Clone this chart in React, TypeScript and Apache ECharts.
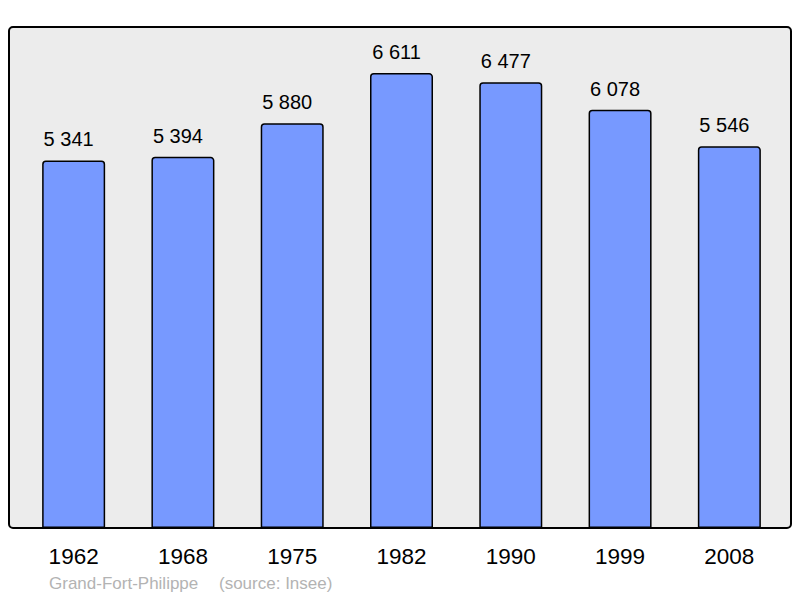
import React, { useEffect, useRef } from "react";
import * as echarts from "echarts";

const years = ["1962", "1968", "1975", "1982", "1990", "1999", "2008"];
const population = [5341, 5394, 5880, 6611, 6477, 6078, 5546];
const commune = "Grand-Fort-Philippe";
const source = "(source: Insee)";

const fmt = (v: number) => {
  const s = String(v);
  return s.replace(/\B(?=(\d{3})+(?!\d))/g, " ");
};

const FONT = "Liberation Sans, Arial, sans-serif";

export default function App() {
  const ref = useRef<HTMLDivElement>(null);
  useEffect(() => {
    if (!ref.current) return;
    const chart = echarts.init(ref.current, null, { renderer: "svg" });
    chart.setOption({
      animation: false,
      textStyle: { fontFamily: FONT },
      grid: { left: 19, width: 765, top: 27, height: 501, containLabel: false },
      xAxis: {
        type: "category",
        data: years,
        axisLine: { show: false },
        axisTick: { show: false },
        axisLabel: { color: "#000", fontSize: 22.5, margin: 17, fontFamily: FONT },
      },
      yAxis: {
        type: "value",
        min: 0,
        max: 7280,
        show: false,
        splitLine: { show: false },
      },
      graphic: [
        {
          type: "rect",
          z: -10,
          shape: { x: 9, y: 27, width: 782, height: 501, r: 4 },
          style: { fill: "#ececec", stroke: "#000", lineWidth: 2 },
        },
        {
          type: "text",
          x: 49,
          y: 575,
          style: { text: commune, fill: "#b3b3b3", fontSize: 17, fontFamily: FONT },
        },
        {
          type: "text",
          x: 219,
          y: 575,
          style: { text: source, fill: "#b3b3b3", fontSize: 17, fontFamily: FONT },
        },
      ],
      series: [
        {
          type: "bar",
          data: population,
          barWidth: 63,
          itemStyle: { color: "#7799ff", borderColor: "#000", borderWidth: 1.5, borderRadius: [3, 3, 0, 0] },
          label: {
            show: true,
            position: "top",
            distance: 10,
            offset: [-5, -1],
            color: "#000",
            fontSize: 20,
            fontFamily: FONT,
            formatter: (p: any) => fmt(p.value),
          },
        },
      ],
    });
    return () => chart.dispose();
  }, []);
  return <div ref={ref} style={{ position: "absolute", left: 0, top: 0, width: 800, height: 598 }} />;
}
